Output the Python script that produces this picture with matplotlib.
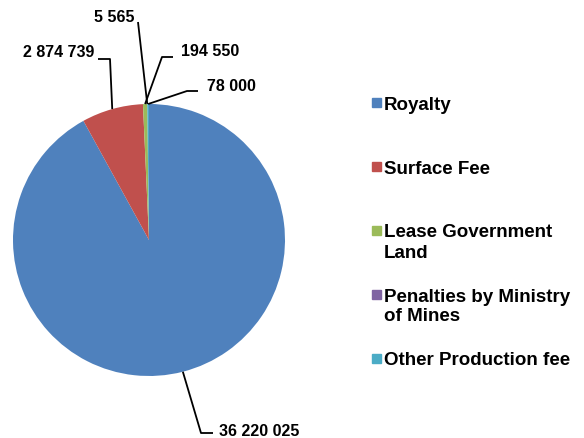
import numpy as np
import matplotlib
matplotlib.use('Agg')
import matplotlib.pyplot as plt
from matplotlib.patches import Rectangle

categories = ['Royalty', 'Surface Fee', 'Lease Government Land',
              'Penalties by Ministry of Mines', 'Other Production fee']
legend_labels = ['Royalty', 'Surface Fee', 'Lease Government\nLand',
                 'Penalties by Ministry\nof Mines', 'Other Production fee']
values = [36220025, 2874739, 194550, 5565, 78000]
colors = ['#4F81BD', '#C0504D', '#9BBB59', '#8064A2', '#4BACC6']

plt.rcParams['font.family'] = ['Liberation Sans', 'DejaVu Sans']
plt.rcParams['font.weight'] = 'bold'

W, H = 584, 439
fig = plt.figure(figsize=(W / 100, H / 100), dpi=100)

# pie centre / radius in pixels (from top-left)
cx, cy, R = 149, 241, 136
ax = fig.add_axes([0, 0, 298 / W, 1])


def px(x, y):
    # pixel (from top-left) -> data coords
    return (x - cx) / R, (cy - y) / R


wedges, _ = ax.pie(values, colors=colors, startangle=90, counterclock=False,
                   radius=1, wedgeprops=dict(linewidth=0))
ax.set_aspect('auto')
ax.set_xlim((0 - cx) / R, (298 - cx) / R)
ax.set_ylim((cy - H) / R, cy / R)
ax.axis('off')

# label layout: (elbow points in px, text anchor in px, ha)
layout = [
    ([(201, 434), (213, 434)], (219, 432), 'left'),
    ([(110, 60), (98, 60)], (94, 53), 'right'),
    ([(162, 58), (173, 58)], (181, 52), 'left'),
    ([(138, 23)], (134, 18), 'right'),
    ([(187, 92), (198, 92)], (207, 87), 'left'),
]

for w, v, (pts, (tx, ty), ha) in zip(wedges, values, layout):
    mid = np.deg2rad((w.theta1 + w.theta2) / 2)
    xs = [np.cos(mid)] + [px(*p)[0] for p in pts]
    ys = [np.sin(mid)] + [px(*p)[1] for p in pts]
    ax.plot(xs, ys, color='black', lw=1.3, solid_capstyle='butt')
    label = f'{v:,}'.replace(',', ' ')
    ax.text(*px(tx, ty), label, ha=ha, va='center', fontsize=11.5,
            fontweight='bold')

# legend
y0, step = 103, 64
for i, (lab, c) in enumerate(zip(legend_labels, colors)):
    y = y0 + i * step
    fig.patches.append(Rectangle((372 / W, 1 - (y + 4.5) / H), 9 / W, 9 / H,
                                 transform=fig.transFigure, color=c))
    lines = lab.split('\n')
    for j, line in enumerate(lines):
        fig.text(384 / W, 1 - (y + 6.5 + 20 * j) / H, line, ha='left',
                 va='baseline', fontsize=13.5, fontweight='bold')

plt.savefig('out.png', dpi=100)
